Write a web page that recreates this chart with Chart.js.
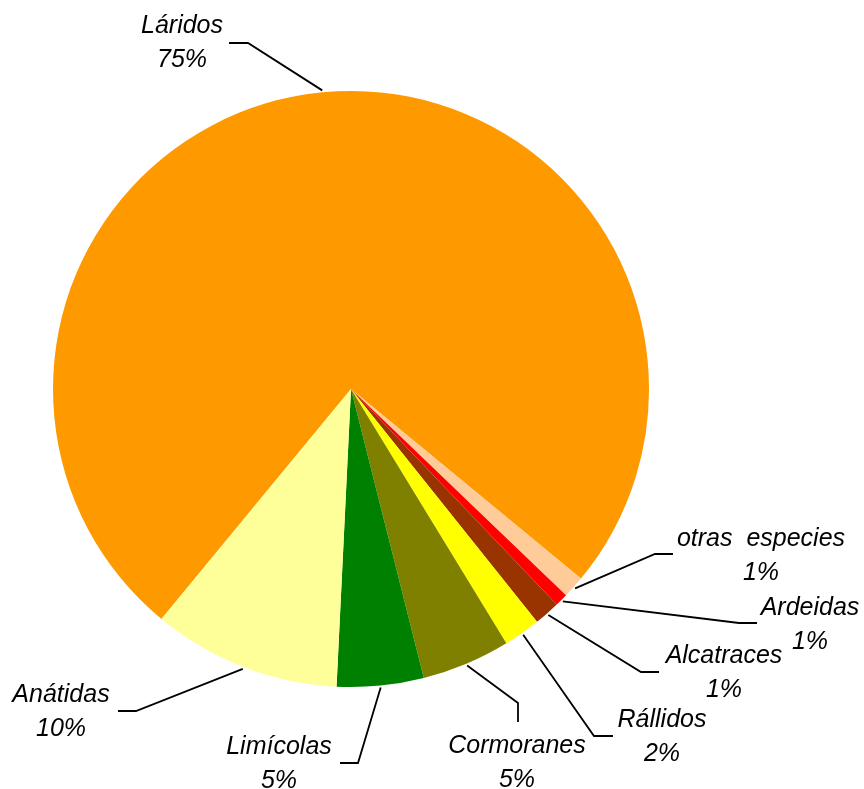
<!DOCTYPE html>
<html>
<head>
<meta charset="utf-8">
<script src="https://cdn.jsdelivr.net/npm/chart.js@4/dist/chart.umd.min.js"></script>
<style>
  html, body { margin: 0; padding: 0; background: #ffffff; }
  #wrap { width: 864px; height: 789px; position: relative; }
</style>
</head>
<body>
<div id="wrap"><canvas id="c"></canvas></div>
<script>
// ---- data ----
const categories = ["Láridos", "otras  especies", "Ardeidas", "Alcatraces", "Rállidos", "Cormoranes", "Limícolas", "Anátidas"];
const values = [75.0, 1.2, 0.7, 1.4, 2.0, 4.8, 4.7, 10.2];
const colors = ["#FF9900", "#FFCC99", "#FF0000", "#993300", "#FFFF00", "#808000", "#008000", "#FFFF99"];

// ---- label layout (leader elbow, leader end, text anchor) ----
const elbows = [[248,43],[655,554],[739,623],[641,672],[594,736],[518,703],[358,763],[136,711]];
const ends   = [[229,43],[673,554],[757,623],[659,672],[613,736],[518,722],[340,763],[118,711]];
const textPos = [[182,33],[761,546],[810,615],[724,663],[662,727],[517,753],[279,754],[61,702]];
const lineGap = 34;

const total = values.reduce((a, b) => a + b, 0);

const labelPlugin = {
  id: 'leaderLabels',
  afterDraw(chart) {
    const ctx = chart.ctx;
    const meta = chart.getDatasetMeta(0);
    ctx.save();
    meta.data.forEach((arc, i) => {
      const mid = (arc.startAngle + arc.endAngle) / 2;
      const r = arc.outerRadius + 2;
      const sx = arc.x + Math.cos(mid) * r;
      const sy = arc.y + Math.sin(mid) * r;
      ctx.beginPath();
      ctx.strokeStyle = '#000000';
      ctx.lineWidth = 1.8;
      ctx.moveTo(sx, sy);
      ctx.lineTo(elbows[i][0], elbows[i][1]);
      ctx.lineTo(ends[i][0], ends[i][1]);
      ctx.stroke();

      ctx.fillStyle = '#000000';
      ctx.font = 'italic 25px "Liberation Sans", Arial, sans-serif';
      ctx.textAlign = 'center';
      ctx.textBaseline = 'alphabetic';
      const pct = Math.round(values[i] / total * 100) + '%';
      ctx.fillText(categories[i], textPos[i][0], textPos[i][1]);
      ctx.fillText(pct, textPos[i][0], textPos[i][1] + lineGap);
    });
    ctx.restore();
  }
};

new Chart(document.getElementById('c'), {
  type: 'pie',
  data: {
    labels: categories,
    datasets: [{
      data: values,
      backgroundColor: colors,
      borderWidth: 0
    }]
  },
  options: {
    responsive: true,
    maintainAspectRatio: false,
    animation: false,
    rotation: 219.5,
    layout: { padding: { left: 53, top: 91, right: 215, bottom: 102 } },
    plugins: {
      legend: { display: false },
      tooltip: { enabled: false }
    }
  },
  plugins: [labelPlugin]
});
</script>
</body>
</html>
